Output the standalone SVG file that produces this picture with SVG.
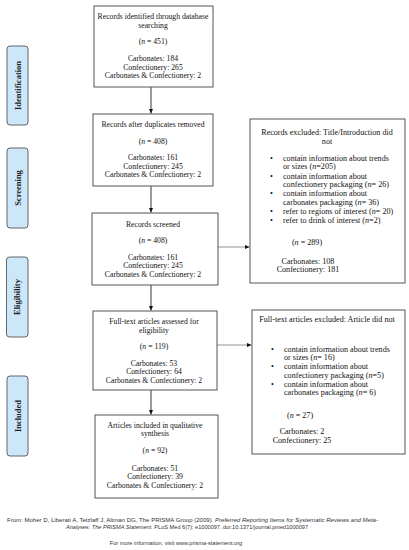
<svg xmlns="http://www.w3.org/2000/svg" width="409" height="550" viewBox="0 0 409 550">
<defs>
<marker id="ah" markerWidth="6" markerHeight="6" refX="5" refY="3" orient="auto" markerUnits="userSpaceOnUse">
<path d="M0,0.8 L5,3 L0,5.2 Z" fill="#111"/>
</marker>
<style>
.box{fill:#fff;stroke:#555;stroke-width:1}
.phase{fill:#cde7fa;stroke:#555;stroke-width:0.9}
.t{font-family:"Liberation Serif","Times New Roman",serif;font-size:7.7px;fill:#111;text-anchor:middle}
.r{font-family:"Liberation Serif","Times New Roman",serif;font-size:8.1px;fill:#111}
.rc{text-anchor:middle}
.ph{font-family:"Liberation Serif","Times New Roman",serif;font-size:8.5px;font-weight:bold;fill:#222;text-anchor:middle}
.f{font-family:"Liberation Sans",Arial,sans-serif;font-size:5.6px;fill:#333}
.v{stroke:#222;stroke-width:0.9;fill:none}
.h{stroke:#777;stroke-width:0.8;fill:none}
</style>
</defs>
<rect width="409" height="550" fill="#fff"/>

<g id="phase-identification">
<rect class="phase" x="7" y="46" width="21" height="79" rx="3"/>
<text class="ph" transform="translate(20.5,85.5) rotate(-90)">Identification</text>
</g>
<g id="phase-screening">
<rect class="phase" x="7" y="148" width="21" height="80" rx="3"/>
<text class="ph" transform="translate(20.5,188) rotate(-90)">Screening</text>
</g>
<g id="phase-eligibility">
<rect class="phase" x="6.5" y="257" width="21.5" height="80" rx="3"/>
<text class="ph" transform="translate(20.3,297) rotate(-90)">Eligibility</text>
</g>
<g id="phase-included">
<rect class="phase" x="7" y="376" width="21" height="80" rx="3"/>
<text class="ph" transform="translate(20.5,416) rotate(-90)">Included</text>
</g>

<g id="connectors">
<line class="v" x1="151" y1="87" x2="151" y2="113.5" marker-end="url(#ah)"/>
<line class="v" x1="151" y1="186" x2="151" y2="212.5" marker-end="url(#ah)"/>
<line class="v" x1="151" y1="285" x2="151" y2="310.5" marker-end="url(#ah)"/>
<line class="v" x1="151" y1="390" x2="151" y2="414.5" marker-end="url(#ah)"/>
<line class="h" x1="218" y1="247" x2="249.5" y2="247" marker-end="url(#ah)"/>
<line class="h" x1="217" y1="345" x2="251.5" y2="345" marker-end="url(#ah)"/>
</g>

<g id="node-identified">
<rect class="box" x="94" y="6" width="119" height="81"/>
<text class="t" x="153" y="19">Records identified through database</text>
<text class="t" x="153" y="27.5">searching</text>
<text class="t" x="153" y="44">(<tspan font-style="italic">n</tspan> = 451)</text>
<text class="t" x="153" y="61">Carbonates: 184</text>
<text class="t" x="153" y="69.5">Confectionery: 265</text>
<text class="t" x="153" y="78">Carbonates &amp; Confectionery: 2</text>
</g>

<g id="node-duplicates">
<rect class="box" x="93" y="114" width="120" height="72"/>
<text class="t" x="153" y="127">Records after duplicates removed</text>
<text class="t" x="153" y="143.5">(<tspan font-style="italic">n</tspan> = 408)</text>
<text class="t" x="153" y="160">Carbonates: 161</text>
<text class="t" x="153" y="168.5">Confectionery: 245</text>
<text class="t" x="153" y="177">Carbonates &amp; Confectionery: 2</text>
</g>

<g id="node-screened">
<rect class="box" x="92" y="213" width="126" height="72"/>
<text class="t" x="153" y="226.5">Records screened</text>
<text class="t" x="153" y="243">(<tspan font-style="italic">n</tspan> = 408)</text>
<text class="t" x="153" y="259.5">Carbonates: 161</text>
<text class="t" x="153" y="268">Confectionery: 245</text>
<text class="t" x="153" y="276.5">Carbonates &amp; Confectionery: 2</text>
</g>

<g id="node-fulltext">
<rect class="box" x="93" y="311" width="124" height="79"/>
<text class="t" x="154" y="323.5">Full-text articles assessed for</text>
<text class="t" x="154" y="332.5">eligibility</text>
<text class="t" x="154" y="348.5">(<tspan font-style="italic">n</tspan> = 119)</text>
<text class="t" x="154" y="365.5">Carbonates: 53</text>
<text class="t" x="154" y="374">Confectionery: 64</text>
<text class="t" x="154" y="382.5">Carbonates &amp; Confectionery: 2</text>
</g>

<g id="node-included">
<rect class="box" x="95" y="415" width="123" height="83"/>
<text class="t" x="155" y="427.5">Articles included in qualitative</text>
<text class="t" x="155" y="436">synthesis</text>
<text class="t" x="155" y="453">(<tspan font-style="italic">n</tspan> = 92)</text>
<text class="t" x="155" y="470.5">Carbonates: 51</text>
<text class="t" x="155" y="479">Confectionery: 39</text>
<text class="t" x="155" y="487.5">Carbonates &amp; Confectionery: 2</text>
</g>

<g id="node-records-excluded">
<rect class="box" x="250" y="119" width="155" height="164"/>
<text class="r rc" x="327" y="135">Records excluded: Title/Introduction did</text>
<text class="r rc" x="327" y="143.5">not</text>
<text class="r" x="270" y="160.5">•</text>
<text class="r" x="283" y="160.5">contain information about trends</text>
<text class="r" x="283" y="169">or sizes (<tspan font-style="italic">n</tspan>=205)</text>
<text class="r" x="270" y="178.5">•</text>
<text class="r" x="283" y="178.5">contain information about</text>
<text class="r" x="283" y="187">confectionery packaging (<tspan font-style="italic">n</tspan>= 26)</text>
<text class="r" x="270" y="196">•</text>
<text class="r" x="283" y="196">contain information about</text>
<text class="r" x="283" y="205">carbonates packaging (<tspan font-style="italic">n</tspan>= 36)</text>
<text class="r" x="270" y="214">•</text>
<text class="r" x="283" y="214">refer to regions of interest (<tspan font-style="italic">n</tspan>= 20)</text>
<text class="r" x="270" y="223">•</text>
<text class="r" x="283" y="223">refer to drink of interest (<tspan font-style="italic">n</tspan>=2)</text>
<text class="r rc" x="307" y="244.5">(<tspan font-style="italic">n</tspan> = 289)</text>
<text class="r rc" x="308" y="263.5">Carbonates: 108</text>
<text class="r rc" x="308" y="272">Confectionery: 181</text>
</g>

<g id="node-fulltext-excluded">
<rect class="box" x="252" y="310" width="153" height="144"/>
<text class="r rc" x="327" y="321.5">Full-text articles excluded: Article did not</text>
<text class="r" x="271" y="351.5">•</text>
<text class="r" x="284" y="351.5">contain information about trends</text>
<text class="r" x="284" y="360">or sizes (<tspan font-style="italic">n</tspan>= 16)</text>
<text class="r" x="271" y="369">•</text>
<text class="r" x="284" y="369">contain information about</text>
<text class="r" x="284" y="378">confectionery packaging (<tspan font-style="italic">n</tspan>=5)</text>
<text class="r" x="271" y="386.5">•</text>
<text class="r" x="284" y="386.5">contain information about</text>
<text class="r" x="284" y="395">carbonates packaging (<tspan font-style="italic">n</tspan>= 6)</text>
<text class="r rc" x="300" y="417.5">(<tspan font-style="italic">n</tspan> = 27)</text>
<text class="r rc" x="302" y="434">Carbonates: 2</text>
<text class="r rc" x="302" y="442.5">Confectionery: 25</text>
</g>

<g id="footer">
<text class="f" x="7" y="522" textLength="371" lengthAdjust="spacingAndGlyphs">From:  Moher D, Liberati A, Tetzlaff J, Altman DG, The PRISMA Group (2009). <tspan font-style="italic">Preferred Reporting Items for Systematic Reviews and Meta-</tspan></text>
<text class="f" x="187" y="529" text-anchor="middle"><tspan font-style="italic">Analyses: The PRISMA Statement.</tspan> PLoS Med 6(7): e1000097. doi:10.1371/journal.pmed1000097</text>
<text class="f" x="176" y="545" text-anchor="middle">For more information, visit www.prisma-statement.org</text>
</g>
</svg>
